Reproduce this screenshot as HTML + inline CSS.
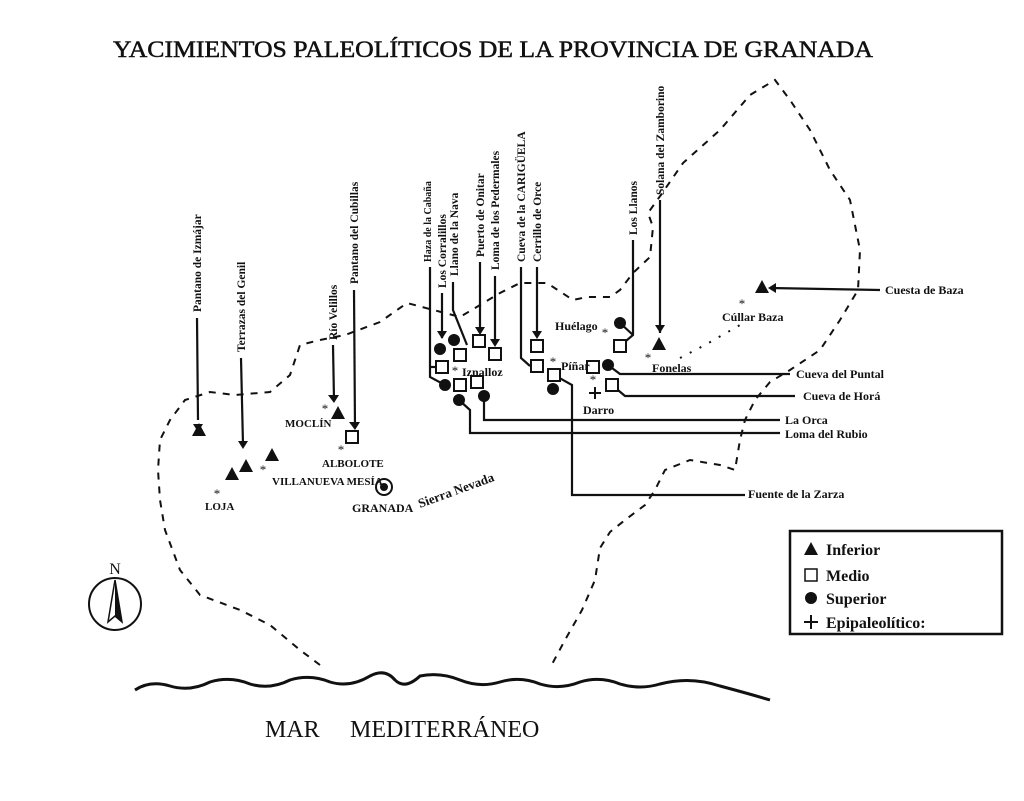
<!DOCTYPE html>
<html><head><meta charset="utf-8"><style>
html,body{margin:0;padding:0;background:#fff}
svg{display:block}
text{font-family:"Liberation Serif",serif;fill:#111}
.v{font-size:11.5px;font-weight:bold}
.l{font-size:12px;font-weight:bold}
.b{font-size:11px;font-weight:bold}
</style></head><body>
<svg width="1024" height="801" viewBox="0 0 1024 801" xmlns="http://www.w3.org/2000/svg">
<rect width="1024" height="801" fill="#fff"/>
<text x="113" y="57" font-size="23" stroke="#111" stroke-width="0.5" textLength="760" lengthAdjust="spacingAndGlyphs">YACIMIENTOS PALEOLÍTICOS DE LA PROVINCIA DE GRANADA</text>

<path d="M320,665 L300,650 L270,625 L240,610 L200,595 L180,570 L165,530 L160,500 L158,470 L160,440 L170,420 L185,400 L210,392 L235,395 L270,392 L290,375 L300,345 L320,340 L345,335 L380,322 L407,303 L460,317 L500,293 L520,283 L547,283 L573,300 L587,297 L610,297 L620,290 L633,273 L650,257 L653,227 L648,213 L663,192 L683,163 L720,130 L750,95 L775,80 L790,100 L810,130 L830,170 L850,200 L860,250 L858,290 L840,320 L820,350 L790,370 L770,382 L755,400 L745,420 L740,440 L735,470 L720,465 L690,460 L665,470 L655,490 L645,505 L625,520 L610,532 L600,548 L595,580 L582,610 L565,640 L550,668" fill="none" stroke="#111" stroke-width="2" stroke-dasharray="7,7"/>
<path d="M680,358 L705,345 L740,325" fill="none" stroke="#111" stroke-width="2" stroke-dasharray="2,9"/>

<path d="M135,690 Q150,680 170,686 Q190,692 210,682 Q230,676 250,684 Q270,690 290,680 Q310,674 330,682 Q350,688 370,676 Q385,668 395,680 Q405,690 420,676 Q440,672 460,680 Q480,688 500,682 Q520,676 540,684 Q560,690 580,682 Q600,676 620,684 Q640,690 660,684 Q690,676 720,686 Q750,694 770,700" fill="none" stroke="#111" stroke-width="3"/>
<text x="265" y="737" font-size="24">MAR</text>
<text x="350" y="737" font-size="24">MEDITERRÁNEO</text>

<g stroke="#111" stroke-width="2.2" fill="none">
<line x1="197" y1="318" x2="198" y2="420"/>
<line x1="241" y1="358" x2="243" y2="445"/>
<line x1="333" y1="345" x2="334" y2="400"/>
<line x1="354" y1="290" x2="355" y2="428"/>
<polyline points="430,267 430,377 445,385"/>
<line x1="430" y1="367" x2="437" y2="367"/>
<line x1="442" y1="293" x2="442" y2="338"/>
<polyline points="453,282 453,310 467,345"/>
<line x1="480" y1="262" x2="480" y2="333"/>
<line x1="495" y1="276" x2="495" y2="345"/>
<polyline points="521,267 521,358 530,366"/>
<line x1="537" y1="267" x2="537" y2="337"/>
<polyline points="554,375 572,385 572,495 745,495"/>
<polyline points="484,396 484,420 780,420"/>
<polyline points="459,400 470,410 470,433 780,433"/>
<polyline points="633,240 633,335 620,346"/>
<line x1="620" y1="323" x2="633" y2="335"/>
<line x1="660" y1="200" x2="660" y2="333"/>
<polyline points="608,365 620,374 790,374"/>
<polyline points="612,385 625,396 795,396"/>
<line x1="770" y1="288" x2="880" y2="290"/>
</g>
<g fill="#111">
<polygon points="193,424 203,424 198,432"/>
<polygon points="238,441 248,441 243,449"/>
<polygon points="328,395 339,395 334,403"/>
<polygon points="349,422 360,422 355,430"/>
<polygon points="437,331 447,331 442,339"/>
<polygon points="475,327 485,327 480,335"/>
<polygon points="490,339 500,339 495,347"/>
<polygon points="532,331 542,331 537,339"/>
<polygon points="655,325 665,325 660,333"/>
<polygon points="776,283 776,293 768,288"/>
<polygon points="199,423 192,436 206,436"/>
<polygon points="232,467 225,480 239,480"/>
<polygon points="246,459 239,472 253,472"/>
<polygon points="272,448 265,461 279,461"/>
<polygon points="338,406 331,419 345,419"/>
<polygon points="659,337 652,350 666,350"/>
<polygon points="762,280 755,293 769,293"/>
<circle cx="440" cy="349" r="6"/>
<circle cx="454" cy="340" r="6"/>
<circle cx="445" cy="385" r="6"/>
<circle cx="459" cy="400" r="6"/>
<circle cx="484" cy="396" r="6"/>
<circle cx="553" cy="389" r="6"/>
<circle cx="620" cy="323" r="6"/>
<circle cx="608" cy="365" r="6"/>
<circle cx="384" cy="487" r="4"/>
</g>
<circle cx="384" cy="487" r="8" fill="none" stroke="#111" stroke-width="2"/>
<g fill="#fff" stroke="#111" stroke-width="2">
<rect x="346" y="431" width="12" height="12"/>
<rect x="436" y="361" width="12" height="12"/>
<rect x="454" y="349" width="12" height="12"/>
<rect x="473" y="335" width="12" height="12"/>
<rect x="489" y="348" width="12" height="12"/>
<rect x="454" y="379" width="12" height="12"/>
<rect x="471" y="376" width="12" height="12"/>
<rect x="531" y="340" width="12" height="12"/>
<rect x="531" y="360" width="12" height="12"/>
<rect x="548" y="369" width="12" height="12"/>
<rect x="614" y="340" width="12" height="12"/>
<rect x="587" y="361" width="12" height="12"/>
<rect x="606" y="379" width="12" height="12"/>
</g>
<g font-size="13" fill="#111" font-family="DejaVu Sans,sans-serif" text-anchor="middle">
<text x="263" y="474">*</text><text x="217" y="498">*</text><text x="325" y="413">*</text><text x="341" y="454">*</text>
<text x="455" y="375">*</text><text x="553" y="366">*</text><text x="605" y="337">*</text><text x="648" y="362">*</text>
<text x="593" y="384">*</text><text x="742" y="308">*</text>
</g>
<path d="M589,393 h12 M595,387 v12" stroke="#111" stroke-width="2"/>

<g class="v">
<text transform="translate(201,312) rotate(-90)">Pantano de Izmájar</text>
<text transform="translate(245,352) rotate(-90)">Terrazas del Genil</text>
<text transform="translate(337,340) rotate(-90)">Río Velillos</text>
<text transform="translate(358,284) rotate(-90)">Pantano del Cubillas</text>
<text transform="translate(431,262) rotate(-90)" font-size="10">Haza de la Cabaña</text>
<text transform="translate(446,288) rotate(-90)">Los Corralillos</text>
<text transform="translate(458,276) rotate(-90)">Llano de la Nava</text>
<text transform="translate(484,257) rotate(-90)">Puerto de Onitar</text>
<text transform="translate(499,270) rotate(-90)">Loma de los Pedermales</text>
<text transform="translate(525,262) rotate(-90)">Cueva de la CARIGÜELA</text>
<text transform="translate(541,262) rotate(-90)">Cerrillo de Orce</text>
<text transform="translate(637,235) rotate(-90)">Los Llanos</text>
<text transform="translate(664,195) rotate(-90)">Solana del Zamborino</text>
</g>
<g class="l">
<text x="462" y="376">Iznalloz</text>
<text x="561" y="370">Píñar</text>
<text x="555" y="330">Huélago</text>
<text x="652" y="372">Fonelas</text>
<text x="583" y="414">Darro</text>
<text x="722" y="321">Cúllar Baza</text>
<text x="885" y="294">Cuesta de Baza</text>
<text x="796" y="378">Cueva del Puntal</text>
<text x="803" y="400">Cueva de Horá</text>
<text x="785" y="424">La Orca</text>
<text x="785" y="438">Loma del Rubio</text>
<text x="748" y="498">Fuente de la Zarza</text>
</g>
<g class="b">
<text x="285" y="427">MOCLÍN</text>
<text x="322" y="467">ALBOLOTE</text>
<text x="272" y="485">VILLANUEVA MESÍA</text>
<text x="205" y="510">LOJA</text>
<text x="352" y="512" font-size="12">GRANADA</text>
<text transform="translate(420,508) rotate(-20)" font-size="13">Sierra Nevada</text>
</g>

<circle cx="115" cy="604" r="26" fill="none" stroke="#111" stroke-width="2"/>
<text x="115" y="574" font-size="16" text-anchor="middle" font-family="Liberation Sans,sans-serif">N</text>
<polygon points="115,580 108,622 115,616 122,622" fill="#fff" stroke="#111" stroke-width="1.5"/>
<polygon points="115,580 115,616 122,622" fill="#111"/>

<rect x="790" y="531" width="212" height="103" fill="#fff" stroke="#111" stroke-width="2.5"/>
<g font-family="Liberation Sans,sans-serif" font-size="16" font-weight="bold" fill="#111">
<polygon points="811,542 804,555 818,555"/>
<text x="826" y="555" font-family="Liberation Sans,sans-serif">Inferior</text>
<rect x="805" y="569" width="12" height="12" fill="#fff" stroke="#111" stroke-width="1.5"/>
<text x="826" y="581" font-family="Liberation Sans,sans-serif">Medio</text>
<circle cx="811" cy="598" r="6"/>
<text x="826" y="604" font-family="Liberation Sans,sans-serif">Superior</text>
<path d="M804,622 h14 M811,615 v14" stroke="#111" stroke-width="2"/>
<text x="826" y="628" font-family="Liberation Sans,sans-serif">Epipaleolítico:</text>
</g>
</svg>
</body></html>
